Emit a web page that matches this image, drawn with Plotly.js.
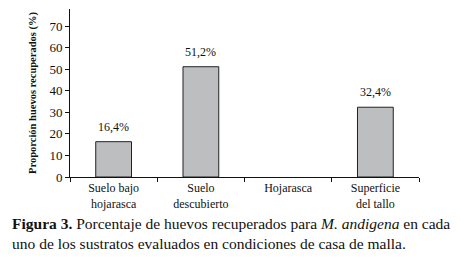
<!DOCTYPE html>
<html><head><meta charset="utf-8">
<script src="https://cdn.plot.ly/plotly-3.0.1.min.js"></script>
<style>html,body{margin:0;padding:0;background:#fff}#c{width:462px;height:258px}</style>
</head><body><div id="c"></div>
<script>
const categories = ["Suelo bajo<br>hojarasca", "Suelo<br>descubierto", "Hojarasca", "Superficie<br>del tallo"];
const values = [16.4, 51.2, 0, 32.4];
const yTicks = [0, 10, 20, 30, 40, 50, 60, 70];
const labels = values.map(v => v > 0 ? v.toFixed(1).replace('.', ',') + '%' : '');
const outline = values.map(v => v > 0 ? 1 : 0);

const serif = "'Liberation Serif', 'DejaVu Serif', serif";
const valueNotes = categories.map((c, i) => ({
  x: c, y: values[i], xref: 'x', yref: 'y', text: labels[i],
  showarrow: false, yanchor: 'bottom', yshift: 6,
  font: {family: serif, size: 12, color: '#111'}
})).filter(a => a.text);

Plotly.newPlot('c', [{
  type: 'bar', x: categories, y: values,
  width: 0.41,
  marker: {color: '#bcbec0', line: {color: '#222', width: outline}},
  hoverinfo: 'none'
}], {
  width: 462, height: 258,
  margin: {l: 70, r: 43, t: 9, b: 81},
  paper_bgcolor: '#fff', plot_bgcolor: '#fff',
  showlegend: false,
  font: {family: serif, color: '#111'},
  xaxis: {
    type: 'category', range: [-0.5, 3.5], tickson: 'boundaries',
    ticks: 'outside', ticklen: 4, tickcolor: '#111',
    showline: true, linecolor: '#111', linewidth: 1,
    showgrid: false, zeroline: false,
    tickfont: {family: serif, size: 12, color: '#111'}
  },
  yaxis: {
    range: [0, 78], tickvals: yTicks, ticktext: yTicks.map(String),
    ticks: 'outside', ticklen: 4, tickcolor: '#111',
    showline: true, linecolor: '#111', linewidth: 1,
    showgrid: false, zeroline: false,
    tickfont: {family: serif, size: 13, color: '#111'},
    title: {text: '<b>Proporción huevos recuperados (%)</b>', font: {family: serif, size: 10.5, color: '#111'}, standoff: 10}
  },
  annotations: valueNotes.concat([{
    xref: 'paper', yref: 'paper', x: -0.172, y: -0.215,
    xanchor: 'left', yanchor: 'top', align: 'left', showarrow: false,
    text: '<b>Figura 3.</b> Porcentaje de huevos recuperados para <i>M. andigena</i> en cada<br>uno de los sustratos evaluados en condiciones de casa de malla.',
    font: {family: serif, size: 15.5, color: '#111'}
  }])
}, {staticPlot: true});
</script></body></html>
